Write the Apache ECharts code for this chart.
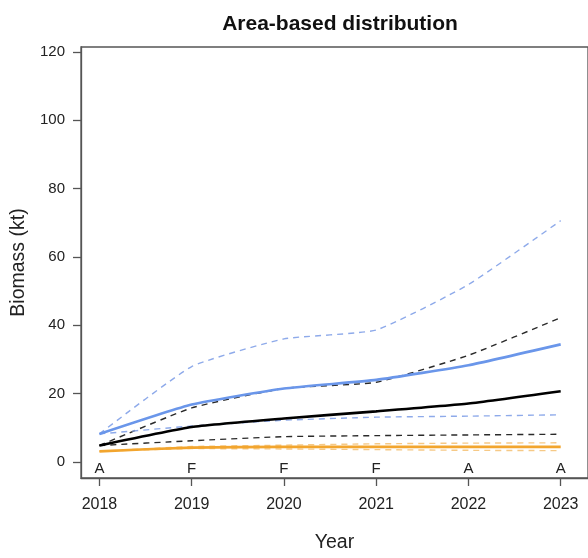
<!DOCTYPE html>
<html>
<head>
<meta charset="utf-8">
<script src="https://cdn.jsdelivr.net/npm/echarts@6/dist/echarts.min.js"></script>
<style>
  html, body { margin: 0; padding: 0; background: #fff; }
  #chart { width: 588px; height: 558px; }
</style>
</head>
<body>
<div id="chart"></div>
<script>
// Projected biomass (kt) by year under an area-based distribution
const years = [2018, 2019, 2020, 2021, 2022, 2023];
const statusLabels = ['A', 'F', 'F', 'F', 'A', 'A'];
const statusLevel = -2.0;
const yTicks = [0, 20, 40, 60, 80, 100, 120];

const blueMean  = [8.2, 16.8, 21.5, 24.0, 28.3, 34.4];
const blueUpper = [8.2, 27.9, 36.0, 38.6, 51.9, 70.6];
const blueLower = [8.2, 10.5, 12.2, 13.1, 13.4, 13.8];

const blackMean  = [4.8, 10.2, 12.7, 14.8, 17.1, 20.7];
const blackUpper = [4.8, 15.8, 21.5, 23.3, 31.2, 42.2];
const blackLower = [4.8, 6.2, 7.4, 7.7, 7.9, 8.1];

const orangeMean  = [3.1, 4.2, 4.4, 4.4, 4.4, 4.4];
const orangeUpper = [3.1, 4.5, 4.9, 5.3, 5.5, 5.6];
const orangeLower = [3.1, 3.9, 3.8, 3.6, 3.4, 3.3];

const FONT = 'Liberation Sans, Arial, sans-serif';
const pairs = vals => years.map((y, i) => [y, vals[i]]);

function line(name, vals, color, width, dashed, z) {
  return {
    name: name,
    type: 'line',
    data: pairs(vals),
    symbol: 'none',
    smooth: 0.15,
    z: z,
    lineStyle: { color: color, width: width, type: dashed ? [6, 5] : 'solid', cap: 'butt' }
  };
}

const chart = echarts.init(document.getElementById('chart'), null, { renderer: 'canvas' });

chart.setOption({
  backgroundColor: '#ffffff',
  animation: false,
  title: {
    text: 'Area-based distribution',
    left: 335, top: 9, textAlign: 'center',
    textStyle: { fontFamily: FONT, fontSize: 21, fontWeight: 'bold', color: '#111' }
  },
  grid: {
    left: 81, top: 47, right: -3, bottom: 73,
    show: true, borderColor: '#555', borderWidth: 1.3, backgroundColor: 'transparent'
  },
  xAxis: {
    type: 'value',
    min: 2017.8, max: 2023.296,
    name: 'Year', nameLocation: 'middle', nameGap: 55,
    nameTextStyle: { fontFamily: FONT, fontSize: 19.5, color: '#222' },
    axisLine: { show: true, onZero: false, lineStyle: { color: '#555', width: 1.3 } },
    axisTick: { show: true, length: 8, lineStyle: { color: '#555', width: 1.3 }, customValues: years },
    axisLabel: { fontFamily: FONT, fontSize: 16, color: '#222', margin: 19, customValues: years, formatter: v => String(v) },
    splitLine: { show: false }
  },
  yAxis: {
    type: 'value',
    min: -4.7, max: 121.4,
    name: 'Biomass (kt)', nameLocation: 'middle', nameGap: 45,
    nameTextStyle: { fontFamily: FONT, fontSize: 19.5, color: '#222' },
    axisLine: { show: true, onZero: false, lineStyle: { color: '#555', width: 1.3 } },
    axisTick: { show: true, length: 8, lineStyle: { color: '#555', width: 1.3 }, customValues: yTicks },
    axisLabel: { fontFamily: FONT, fontSize: 15, color: '#222', margin: 16, customValues: yTicks },
    splitLine: { show: false }
  },
  series: [
    line('orange lower', orangeLower, '#f6c986', 1.4, true, 2),
    line('orange upper', orangeUpper, '#f6c986', 1.4, true, 2),
    line('orange', orangeMean, '#f2a52e', 2.6, false, 3),
    line('black lower', blackLower, '#2a2a2a', 1.4, true, 4),
    line('black upper', blackUpper, '#2a2a2a', 1.4, true, 4),
    line('blue lower', blueLower, '#8eaaea', 1.4, true, 4),
    line('blue upper', blueUpper, '#8eaaea', 1.4, true, 4),
    line('black', blackMean, '#000000', 2.6, false, 5),
    line('blue', blueMean, '#6a96ea', 2.6, false, 5),
    {
      name: 'status',
      type: 'custom',
      data: years.map((y, i) => [y, statusLevel, i]),
      renderItem: function (params, api) {
        const p = api.coord([api.value(0), api.value(1)]);
        return {
          type: 'text',
          x: p[0], y: p[1],
          style: {
            text: statusLabels[api.value(2)],
            fontFamily: FONT, fontSize: 15, fill: '#222',
            align: 'center', verticalAlign: 'middle'
          }
        };
      },
      z: 6
    }
  ]
});
</script>
</body>
</html>
